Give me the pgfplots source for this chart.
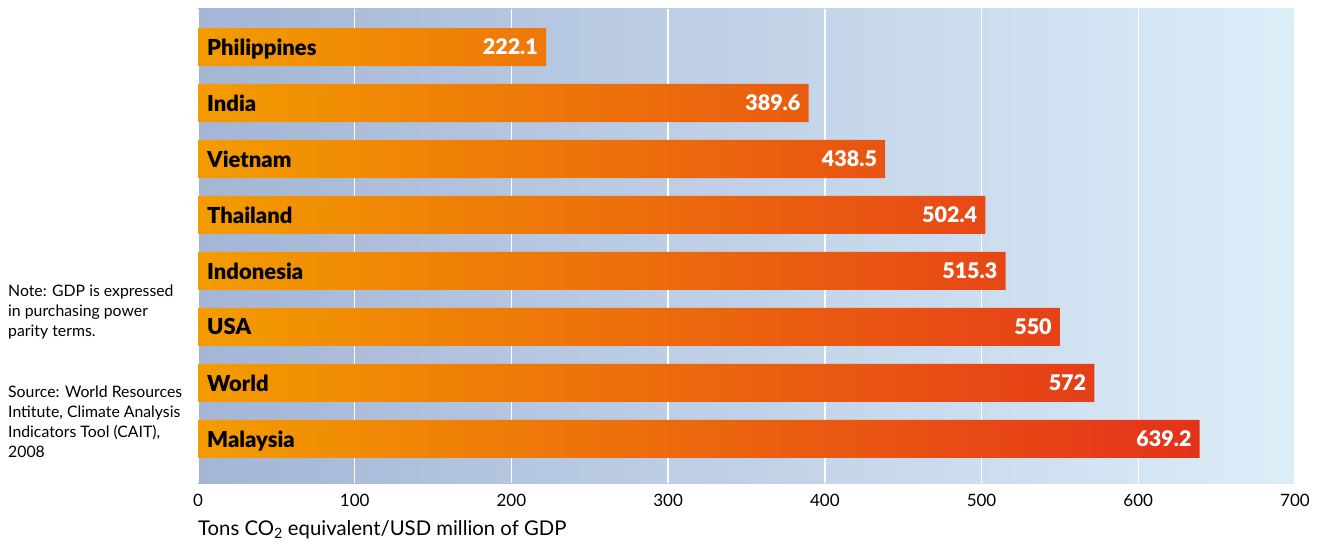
\documentclass[border=0pt]{standalone}
\usepackage{fontspec}
\setmainfont{Lato}
\newfontfamily\heavy{Lato Black}
\usepackage{pgfplots}
\pgfplotsset{compat=1.18}
\definecolor{bgL}{RGB}{164,181,214}
\definecolor{bgR}{RGB}{220,238,248}
\definecolor{barL}{RGB}{243,156,0}
\definecolor{barR}{RGB}{228,50,27}
\begin{document}
\begin{tikzpicture}
\useasboundingbox (-198pt,-63pt) rectangle (1121pt,483pt);
\begin{axis}[
  at={(0pt,0pt)}, anchor=south west,
  scale only axis, width=1097pt, height=474pt,
  xmin=0, xmax=700, ymin=-0.79, ymax=7.68,
  bar width=0.68,
  axis line style={draw=none},
  major tick length=0pt,
  xtick={0,100,...,700},
  xmajorgrids, major grid style={white, line width=1.5pt},
  ytick=\empty,
  xticklabel style={font=\fontsize{17}{20}\selectfont, inner sep=0pt, anchor=center, yshift=-17pt},
  /pgf/number format/assume math mode=true,
  axis background/.style={left color=bgL, right color=bgR},
  xlabel={Tons CO\textsubscript{2} equivalent/USD million of GDP},
  xlabel style={at={(axis description cs:0,0)}, anchor=west, inner sep=0pt, yshift=-47pt, font=\fontsize{20.3}{22}\selectfont},
  clip=false
]
\addplot[xbar, draw=none, left color=barL, right color=barR,
  nodes near coords,
  nodes near coords style={anchor=east, xshift=-8pt, text=white, inner sep=0pt, font=\fontsize{21.5}{24}\selectfont\heavy}]
  coordinates {(639.2,0) (572,1) (550,2) (515.3,3) (502.4,4) (438.5,5) (389.6,6) (222.1,7)};
\addplot[draw=none, mark=none, point meta=explicit symbolic,
  nodes near coords,
  nodes near coords style={anchor=west, xshift=9pt, text=black, inner sep=0pt, text depth=0pt, font=\fontsize{22}{24}\selectfont\heavy}]
  table[x=v, y=y, meta=name] {
v y name
0 0 Malaysia
0 1 World
0 2 USA
0 3 Indonesia
0 4 Thailand
0 5 Vietnam
0 6 India
0 7 Philippines
};
\end{axis}
\node[anchor=base west, align=left, inner sep=0pt, font=\fontsize{15.8}{20}\selectfont] at (-190pt,146pt) {Note: GDP is expressed\\in purchasing power\\parity terms.};
\node[anchor=base west, align=left, inner sep=0pt, font=\fontsize{15.8}{20}\selectfont] at (-190pt,26pt) {Source: World Resources\\Intitute, Climate Analysis\\Indicators Tool (CAIT),\\2008};
\end{tikzpicture}
\end{document}
